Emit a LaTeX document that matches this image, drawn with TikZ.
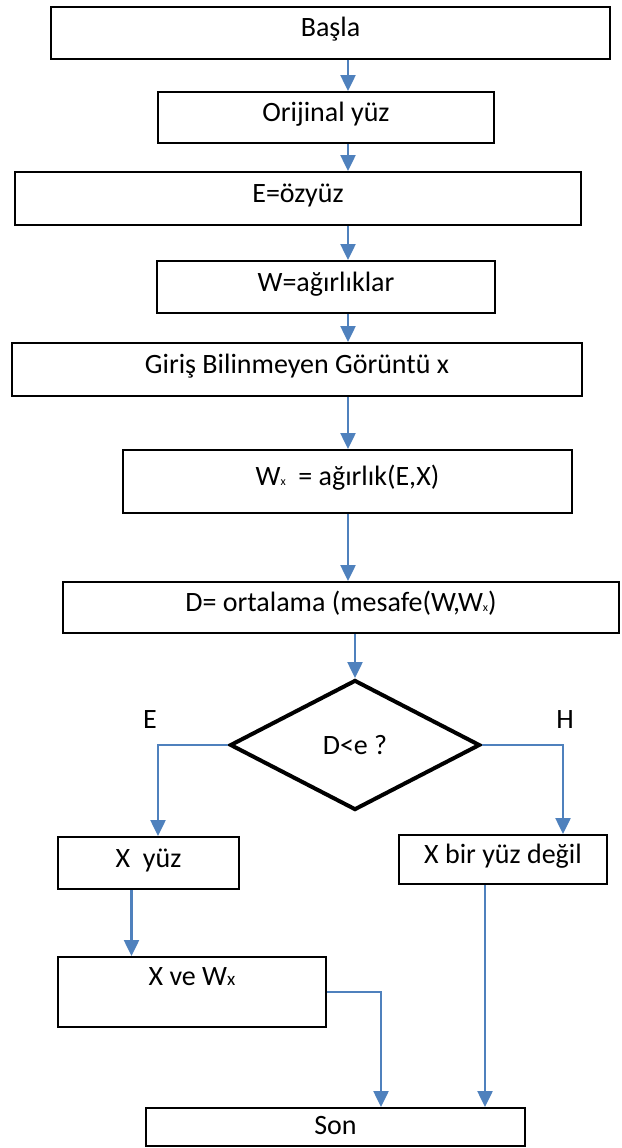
\documentclass[tikz,border=0pt]{standalone}
\usepackage{fontspec}
\setmainfont{Carlito}
\usetikzlibrary{arrows.meta,shapes.geometric}
\definecolor{akis}{RGB}{79,129,189}
\tikzset{
  kutu/.style={draw,line width=2pt,inner sep=0pt,text height=15pt,text depth=7pt},
  karar/.style={diamond,draw,line width=4pt,inner sep=0pt},
  ok/.style={akis,line width=2.5pt,-{Triangle[width=15pt,length=16pt]}}
}
\newcommand{\altx}[1]{{\fontsize{#1}{#1}\selectfont x}}
\begin{document}
\begin{tikzpicture}[x=1pt,y=-1pt,font=\fontsize{28}{33}\selectfont]
  \useasboundingbox (0,0) rectangle (621,1148);
  \coordinate (eksen) at (348,0);
  % kutular
  \node[kutu,minimum width=559pt,minimum height=52pt] (basla) at (330.5,33) {Başla};
  \node[kutu,minimum width=336pt,minimum height=51pt] (orijinal) at (326,117.5) {Orijinal yüz};
  \node[kutu,minimum width=566pt,minimum height=53pt] (ozyuz) at (298,198.5) {E=özyüz};
  \node[kutu,minimum width=338pt,minimum height=52pt] (agirlik) at (326,287) {W=ağırlıklar};
  \node[kutu,minimum width=570pt,minimum height=53pt] (giris) at (297,369.5) {Giriş Bilinmeyen Görüntü x};
  \node[kutu,minimum width=449pt,minimum height=63pt] (wx) at (347.5,481.5) {W\altx{12}\ \ = ağırlık(E,X)};
  \node[kutu,minimum width=556pt,minimum height=51pt] (ortalama) at (341,607.5) {D= ortalama (mesafe(W,W\altx{12})};
  \node[karar,minimum width=250pt,minimum height=130pt] (karar) at (355,745) {D<e ?};
  \node (evet) at (150,720) {E};
  \node (hayir) at (565,720) {H};
  \node[kutu,minimum width=181pt,minimum height=52pt] (xyuz) at (148.5,863) {X\ \ yüz};
  \node[kutu,minimum width=208pt,minimum height=49pt] (xbir) at (503,859.5) {X bir yüz değil};
  \node[kutu,minimum width=268pt,minimum height=70pt,text depth=28pt] (xvew) at (192,992) {X ve W\altx{19}};
  \node[kutu,minimum width=379pt,minimum height=38pt,text depth=0pt] (son) at (335.5,1127) {Son};
  % oklar
  \draw[ok] (basla.south -| eksen) -- (orijinal.north -| eksen);
  \draw[ok] (orijinal.south -| eksen) -- (ozyuz.north -| eksen);
  \draw[ok] (ozyuz.south -| eksen) -- (agirlik.north -| eksen);
  \draw[ok] (agirlik.south -| eksen) -- (giris.north -| eksen);
  \draw[ok] (giris.south -| eksen) -- (wx.north -| eksen);
  \draw[ok] (wx.south -| eksen) -- (ortalama.north -| eksen);
  \draw[ok] (ortalama.south -| karar.north) -- (karar.north);
  \draw[ok] (karar.west) -| ([xshift=9.5pt]xyuz.north);
  \draw[ok] (karar.east) -| ([xshift=60pt]xbir.north);
  \draw[ok] ([xshift=-17pt]xyuz.south) -- ([xshift=-17pt]xyuz.south |- xvew.north);
  \draw[ok] (xvew.east) -| ([xshift=45.5pt]son.north);
  \draw[ok] ([xshift=-18pt]xbir.south) -- ([xshift=-18pt]xbir.south |- son.north);
\end{tikzpicture}
\end{document}
